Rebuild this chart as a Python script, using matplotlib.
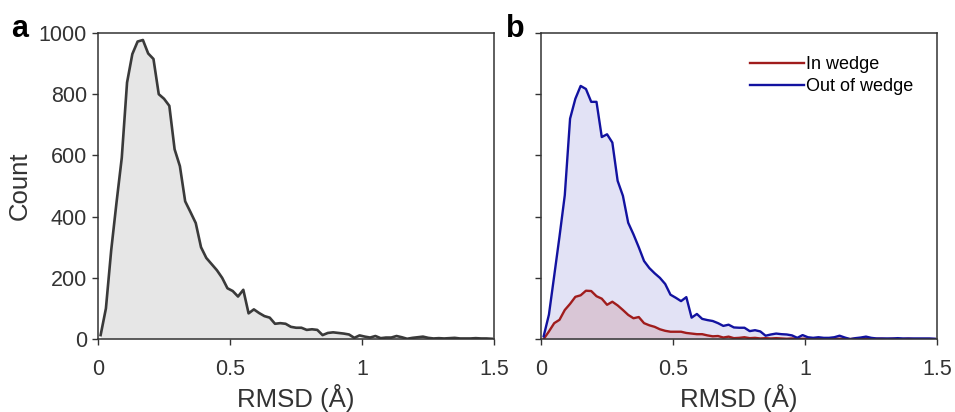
import numpy as np
import matplotlib.pyplot as plt

plt.rcParams['font.family'] = ['Liberation Sans', 'DejaVu Sans']

# bin centres (0.02 A bins)
rmsd = np.arange(75) * 0.02 + 0.01

total = [13, 100, 290, 445, 592, 838, 931, 972, 977, 933,
         915, 800, 785, 762, 620, 565, 450, 415, 379, 300,
         265, 245, 225, 200, 166, 157, 139, 161, 84, 97,
         85, 75, 70, 50, 52, 50, 40, 37, 37, 30,
         32, 30, 13, 20, 22, 20, 18, 15, 4, 12,
         8, 5, 10, 3, 5, 5, 10, 6, 1, 4,
         6, 8, 4, 2, 3, 2, 3, 4, 2, 2,
         2, 3, 2, 2, 1]

out_wedge = [9, 80, 207, 335, 470, 720, 785, 827, 817, 775,
             775, 660, 669, 642, 517, 468, 380, 342, 300, 255,
             232, 215, 200, 180, 145, 135, 124, 137, 70, 82,
             66, 62, 59, 52, 43, 47, 38, 37, 37, 26,
             29, 25, 11, 15, 18, 16, 15, 12, 4, 13,
             6, 4, 6, 4, 4, 6, 11, 5, 0, 3,
             5, 8, 4, 2, 2, 2, 2, 3, 2, 2,
             2, 2, 2, 2, 1]

in_wedge = [0, 25, 52, 63, 95, 115, 138, 143, 158, 157,
            140, 132, 112, 122, 110, 95, 79, 68, 72, 52,
            45, 40, 32, 27, 24, 24, 24, 20, 18, 16,
            16, 12, 9, 10, 5, 8, 3, 4, 6, 3,
            4, 2, 3, 2, 3, 2, 1, 2, 1, 1,
            1, 1, 2, 1, 1, 1, 1, 1, 0, 1,
            1, 1, 0, 1, 1, 0, 1, 0, 0, 1,
            0, 0, 0, 0, 0]

fig = plt.figure(figsize=(9.55, 4.12), dpi=100)
ax1 = fig.add_axes([0.1026, 0.177, 0.415, 0.743])
ax2 = fig.add_axes([0.5665, 0.177, 0.415, 0.743])

spine_col = '#333333'

ax1.fill_between(rmsd, total, color='#e6e6e6', lw=0)
ax1.plot(rmsd, total, color='#3a3a3a', lw=1.9)

ax2.fill_between(rmsd, out_wedge, color='#e2e2f5', lw=0)
ax2.fill_between(rmsd, in_wedge, color='#d9c6d6', lw=0)
ax2.plot(rmsd, in_wedge, color='#a01c1c', lw=1.7, label='In wedge')
ax2.plot(rmsd, out_wedge, color='#1212a0', lw=1.7, label='Out of wedge')

for ax in (ax1, ax2):
    ax.set_xlim(0, 1.5)
    ax.set_ylim(0, 1000)
    ax.set_xticks([0, 0.5, 1, 1.5])
    ax.set_xticklabels(['0', '0.5', '1', '1.5'])
    ax.set_yticks([0, 200, 400, 600, 800, 1000])
    ax.tick_params(direction='out', length=4, width=1, colors=spine_col,
                   labelsize=15.5, labelcolor='#333333')
    ax.tick_params(axis='x', pad=10)
    ax.tick_params(axis='y', pad=4)
    for s in ax.spines.values():
        s.set_color(spine_col)
        s.set_linewidth(1.1)
    ax.set_xlabel('RMSD (Å)', fontsize=18.5, color='#333333', labelpad=3)

ax1.set_ylabel('Count', fontsize=18.5, color='#333333', labelpad=5)
ax2.set_yticklabels([])

ax2.legend(loc='upper left', frameon=False, fontsize=13, handlelength=3.0,
           handletextpad=0.1, labelspacing=0.3, borderpad=0, borderaxespad=0,
           bbox_to_anchor=(0.528, 0.925))

fig.text(0.012, 0.910, 'a', fontsize=22, fontweight='bold', va='baseline')
fig.text(0.530, 0.910, 'b', fontsize=22, fontweight='bold', va='baseline')

fig.savefig('out.png', dpi=100)
